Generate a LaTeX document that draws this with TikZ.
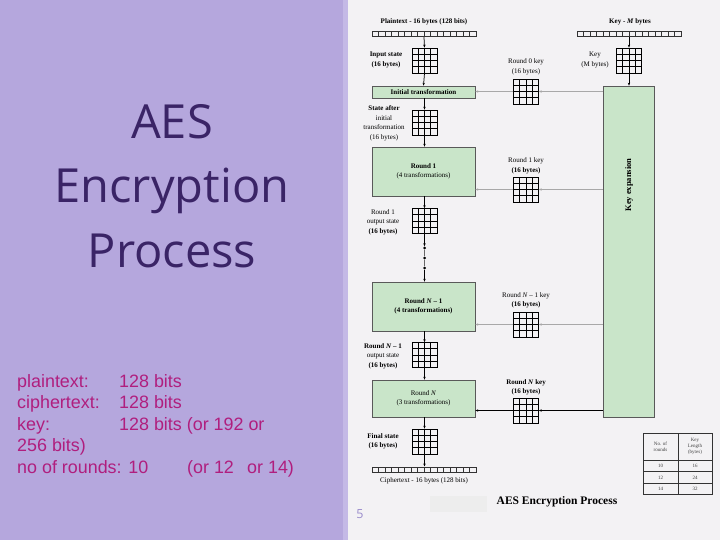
\documentclass[tikz,border=0pt]{standalone}
\usepackage{fontspec}
\setmainfont{Liberation Serif}
\newfontfamily\titlefont{Open Sans}
\newfontfamily\bodyfont{Liberation Sans}
\usetikzlibrary{calc,arrows.meta}
\definecolor{panel}{HTML}{B5A7DD}
\definecolor{stripe}{HTML}{C4B9E6}
\definecolor{paper}{HTML}{F3F2F4}
\definecolor{titlec}{HTML}{3A2466}
\definecolor{bodyc}{HTML}{B01E7E}
\definecolor{boxg}{HTML}{C9E5C9}
\definecolor{pagenum}{HTML}{9A8CCB}
\definecolor{keyline}{HTML}{A8A8A8}
\tikzset{
  statebox/.style={draw=black, line width=0.7pt, minimum size=25pt, inner sep=0pt,
    path picture={
      \foreach \f in {0.25,0.5,0.75}{
        \draw[line width=0.7pt] ($(path picture bounding box.south west)!\f!(path picture bounding box.south east)$) -- ($(path picture bounding box.north west)!\f!(path picture bounding box.north east)$);
        \draw[line width=0.7pt] ($(path picture bounding box.south west)!\f!(path picture bounding box.north west)$) -- ($(path picture bounding box.south east)!\f!(path picture bounding box.north east)$);
      }}},
  byterow/.style={draw=black!80, line width=0.5pt, minimum width=104pt, minimum height=5.5pt, inner sep=0pt,
    path picture={
      \foreach \i [evaluate=\i as \f using \i/16] in {1,...,15}{
        \draw[line width=0.5pt] ($(path picture bounding box.south west)!\f!(path picture bounding box.south east)$) -- ($(path picture bounding box.north west)!\f!(path picture bounding box.north east)$);
      }}},
  roundbox/.style={draw=black!65, line width=0.6pt, fill=boxg, minimum width=103pt, inner sep=1pt, align=center, font=\fontsize{7}{9.5}\selectfont},
  lbl/.style={align=center, inner sep=0pt, font=\fontsize{7}{9.5}\selectfont},
  flow/.style={draw=black, line width=0.75pt, -{Stealth[length=3pt,width=2.4pt]}},
  keyflow/.style={draw=keyline, line width=0.6pt, -{Stealth[length=3pt,width=2.4pt]}},
  dotn/.style={circle, fill=black, inner sep=0pt, minimum size=3pt},
  tbl/.style={align=center, inner sep=0pt, font=\fontsize{5}{6}\selectfont, text=black!75},
  titletxt/.style={anchor=base, inner sep=0pt, text=titlec, font=\titlefont\fontsize{47}{64}\selectfont},
  bodytxt/.style={anchor=base west, inner sep=0pt, text=bodyc, font=\bodyfont\fontsize{17.9}{21}\selectfont},
}
\begin{document}
\begin{tikzpicture}[x=1pt,y=-1pt]
\useasboundingbox (0,0) rectangle (720,540);
\fill[paper] (0,0) rectangle (720,540);
\fill[panel] (0,0) rectangle (343,540);
\fill[stripe] (343,0) rectangle (348,540);

% left panel text
\node[titletxt] (t1) at (172,139) {AES};
\node[titletxt] (t2) at (172,203) {Encryption};
\node[titletxt] (t3) at (172,267) {Process};
\node[bodytxt] (b1a) at (17,387) {plaintext:};
\node[bodytxt] (b1b) at (119,387) {128 bits};
\node[bodytxt] (b2a) at (17,408) {ciphertext:};
\node[bodytxt] (b2b) at (119,408) {128 bits};
\node[bodytxt] (b3a) at (17,430) {key:};
\node[bodytxt] (b3b) at (119,430) {128 bits (or 192 or};
\node[bodytxt] (b4a) at (17,451) {256 bits)};
\node[bodytxt] (b5a) at (17,473) {no of rounds: 10};
\node[bodytxt] (b5b) at (187,473) {(or 12};
\node[bodytxt] (b5c) at (247,473) {or 14)};

% byte rows
\node[byterow] (pt) at (424,34) {};
\node[byterow] (keyrow) at (629,34) {};
\node[byterow] (ct) at (424,469.5) {};
\node[lbl, font=\fontsize{7}{9.5}\selectfont\bfseries] (ptl) at (424,22) {Plaintext - 16 bytes (128 bits)};
\node[lbl, font=\fontsize{7}{9.5}\selectfont\bfseries] (keyl) at (630,22) {Key - \textit{M} bytes};
\node[lbl] (ctl) at (424,481) {Ciphertext - 16 bytes (128 bits)};

% state grids
\node[statebox] (in) at (424.5,60.5) {};
\node[statebox] (sai) at (424.5,122.5) {};
\node[statebox] (r1o) at (424.5,221) {};
\node[statebox] (rn1o) at (424.5,355) {};
\node[statebox] (fin) at (424.5,441.5) {};
\node[statebox] (key) at (629,60.5) {};
\node[statebox] (k0) at (526,91.5) {};
\node[statebox] (k1) at (526,189.5) {};
\node[statebox] (kn1) at (526,324.5) {};
\node[statebox] (kn) at (526,410.5) {};

% round boxes
\node[roundbox, minimum height=12pt] (init) at (423.5,92) {\bfseries Initial transformation};
\node[roundbox, minimum height=49pt] (r1) at (423.5,171.5) {\textbf{Round 1}\\(4 transformations)};
\node[roundbox, minimum height=49pt] (rn1) at (423.5,306.5) {\textbf{Round \textit{N} -- 1}\\\textbf{(4 transformations)}};
\node[roundbox, minimum height=37pt] (rn) at (423.5,398.5) {Round \textit{N}\\(3 transformations)};
\node[draw=black!65, line width=0.6pt, fill=boxg, minimum width=51pt, minimum height=331pt, inner sep=0pt] (kexp) at (628.5,251.5) {};
\node[lbl, rotate=90, font=\fontsize{8.5}{10}\selectfont\bfseries] (kexpl) at (629,185) {Key expansion};

% labels
\node[lbl, font=\fontsize{7}{9.5}\selectfont\bfseries] (inl) at (386,60) {Input state\\(16 bytes)};
\node[lbl] (k0l) at (526,67) {Round 0 key\\(16 bytes)};
\node[lbl] (keyl2) at (595,60) {Key\\(M bytes)};
\node[lbl] (sail) at (384,123.5) {\textbf{State after}\\initial\\transformation\\(16 bytes)};
\node[lbl] (k1l) at (526,166) {Round 1 key\\\textbf{(16 bytes)}};
\node[lbl] (r1ol) at (383,222) {Round 1\\output state\\\textbf{(16 bytes)}};
\node[lbl] (kn1l) at (526,300.5) {Round \textit{N} -- 1 key\\\textbf{(16 bytes)}};
\node[lbl] (rn1ol) at (383,356) {\textbf{Round \textit{N} -- 1}\\output state\\\textbf{(16 bytes)}};
\node[lbl] (knl) at (526,387.5) {\textbf{Round \textit{N} key}\\\textbf{(16 bytes)}};
\node[lbl] (finl) at (383,441.5) {\textbf{Final state}\\\textbf{(16 bytes)}};

% dots
\node[dotn] (d1) at (424.5,248) {};
\node[dotn] (d2) at (424.5,258) {};
\node[dotn] (d3) at (424.5,268) {};

% main flow
\draw[flow] (pt.south) -- (in.north);
\draw[flow] (in.south) -- (init.north);
\draw[flow] (init.south -| sai.north) -- (sai.north);
\draw[flow] (sai.south) -- (sai.south |- r1.north);
\draw[flow] (sai.south |- r1.south) -- (r1o.north);
\draw[flow] (r1o.south) -- (d1.north);
\draw[draw=black!60, line width=0.4pt] (d1) -- (d2) (d2) -- (d3);
\draw[flow] (d3) -- (d3 |- rn1.north);
\draw[flow] (rn1o.north |- rn1.south) -- (rn1o.north);
\draw[flow] (rn1o.south) -- (rn1o.south |- rn.north);
\draw[flow] (fin.north |- rn.south) -- (fin.north);
\draw[flow] (fin.south) -- (fin.south |- ct.north);
\draw[flow] (keyrow.south) -- (key.north);
\draw[flow] (key.south) -- (key.south |- kexp.north);

% key flow
\draw[keyflow] (kexp.west |- k0) -- (k0.east);
\draw[keyflow] (k0.west) -- (k0.west -| init.east);
\draw[keyflow] (kexp.west |- k1) -- (k1.east);
\draw[keyflow] (k1.west) -- (k1.west -| r1.east);
\draw[keyflow] (kexp.west |- kn1) -- (kn1.east);
\draw[keyflow] (kn1.west) -- (kn1.west -| rn1.east);
\draw[flow] (kexp.west |- kn) -- (kn.east);
\draw[flow] (kn.west) -- (kn.west -| rn.east);

% table
\draw[black!80, line width=0.5pt] (643,433) rectangle (712,494);
\draw[black!80, line width=0.5pt] (678,433) -- (678,494) (643,460) -- (712,460) (643,471.5) -- (712,471.5) (643,483) -- (712,483);
\node[tbl] (th1) at (660.5,446.5) {No. of\\rounds};
\node[tbl] (th2) at (695,446.5) {Key\\Length\\(bytes)};
\node[tbl] (t11) at (660.5,466) {10};
\node[tbl] (t12) at (695,466) {16};
\node[tbl] (t21) at (660.5,477.5) {12};
\node[tbl] (t22) at (695,477.5) {24};
\node[tbl] (t31) at (660.5,489) {14};
\node[tbl] (t32) at (695,489) {32};

% caption
\fill[black!7] (430,496) rectangle (487,512);
\node[font=\fontsize{11.5}{13}\selectfont\bfseries, inner sep=0pt] (cap) at (557,502) {AES Encryption Process};
\node[text=pagenum, font=\titlefont\fontsize{12.5}{14}\selectfont, inner sep=0pt] (pg) at (360,514) {5};
\end{tikzpicture}
\end{document}
